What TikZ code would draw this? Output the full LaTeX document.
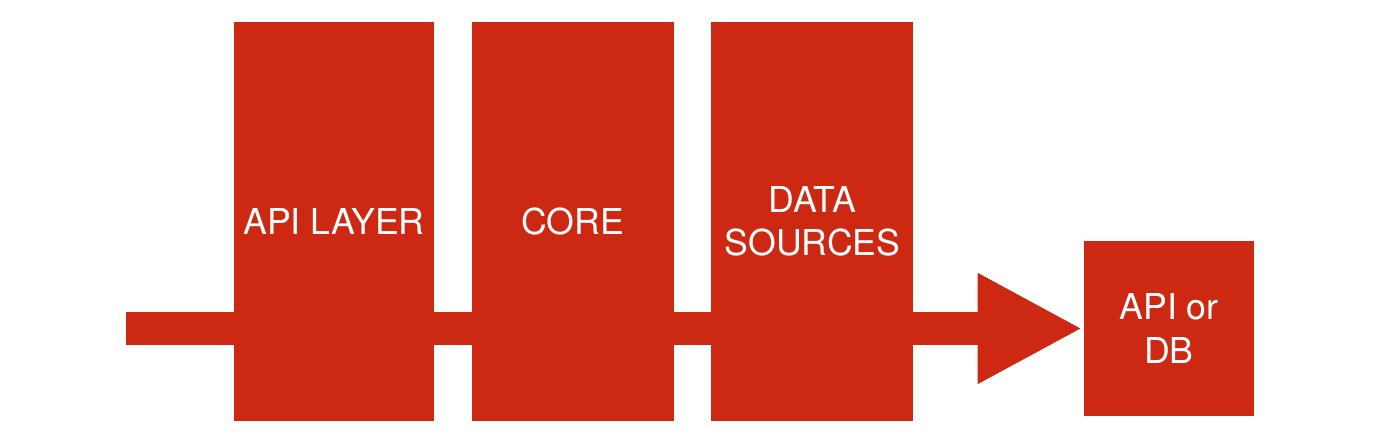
\documentclass[tikz,border=0pt]{standalone}
\usepackage{fontspec}
\setmainfont{TeX Gyre Heros}
\usetikzlibrary{positioning,arrows.meta}
\definecolor{red}{RGB}{204,40,18}
\newlength\px
\setlength\px{0.02cm}

\begin{document}
\begin{tikzpicture}[x=\px, y=-\px,
  layer/.style={fill=red, inner sep=0pt, text=white, align=center,
    font=\fontsize{20.3}{24.5}\selectfont},
  flow/.style={red, line width=0.66cm, -{Triangle[length=2.1cm, width=2.06cm]}}]

  % Canvas
  \useasboundingbox (0,0) rectangle (1400,438);

  % Target box and the flow arrow behind the layers
  \coordinate (start) at (126,328.5);
  \node[layer, minimum width=170\px, minimum height=175\px] (dest) at (1169,328.5) {API or\\DB};
  \draw[flow, shorten >=0.02cm] (start) -- (dest.west);

  % Layers
  \node[layer, minimum width=200\px, minimum height=399\px] (api) at (334,221.5) {API LAYER};
  \node[layer, minimum width=202\px, minimum height=399\px, right=37\px of api] (core) {CORE};
  \node[layer, minimum width=202\px, minimum height=399\px, right=37\px of core] (data) {DATA\\SOURCES};

\end{tikzpicture}
\end{document}
